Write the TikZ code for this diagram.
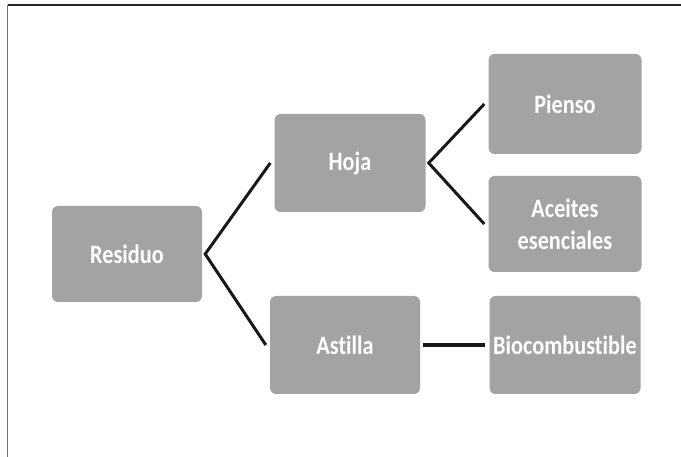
\documentclass[tikz,border=0pt]{standalone}
\usepackage{graphicx}
\usepackage{fontspec}
\setmainfont{Carlito}[Ligatures={NoCommon}]
\newcommand\sx[1]{\scalebox{0.84}[1]{#1}}
\definecolor{boxgray}{HTML}{A3A3A3}
\begin{document}
\begin{tikzpicture}[x=1pt,y=-1pt,
  box/.style={rectangle, rounded corners=6pt, fill=boxgray, draw=none,
    text=white, font=\fontsize{26.5}{32}\selectfont\bfseries, align=center,
    inner sep=0pt},
  link/.style={line width=3pt, draw=black!90},
  thick link/.style={line width=4.8pt, draw=black!90}]
\useasboundingbox (0,0) rectangle (681,457);
\fill[white] (0,0) rectangle (681,457);
\draw[line width=1.6pt, black!85] (7.5,5) -- (681,5);
\draw[line width=1.6pt, black!55] (7.5,5) -- (7.5,457);

\node[box, minimum width=150pt, minimum height=96pt] (res) at (127,254) {\sx{Residuo}};
\node[box, minimum width=151pt, minimum height=98pt] (hoja) at (350,163) {\sx{Hoja}};
\node[box, minimum width=153pt, minimum height=100pt] (pien) at (565,104) {\sx{Pienso}};
\node[box, minimum width=153pt, minimum height=96pt] (acei) at (565,224) {\sx{Aceites}\\\sx{esenciales}};
\node[box, minimum width=150pt, minimum height=98pt] (asti) at (345,345) {\sx{Astilla}};
\node[box, minimum width=151pt, minimum height=98pt] (bio) at (565,345) {\sx{Biocombustible}};

\coordinate (rv) at ([xshift=3pt]res.east);
\coordinate (hv) at ([xshift=3pt]hoja.east);
\draw[link] ([xshift=-4pt]hoja.west) -- (rv) -- ([xshift=-4pt]asti.west);
\draw[link] ([xshift=-4pt]pien.west) -- (hv) -- ([xshift=-4pt]acei.west);
\draw[thick link] ([xshift=3pt]asti.east) -- ([xshift=-4pt]bio.west);
\end{tikzpicture}
\end{document}
